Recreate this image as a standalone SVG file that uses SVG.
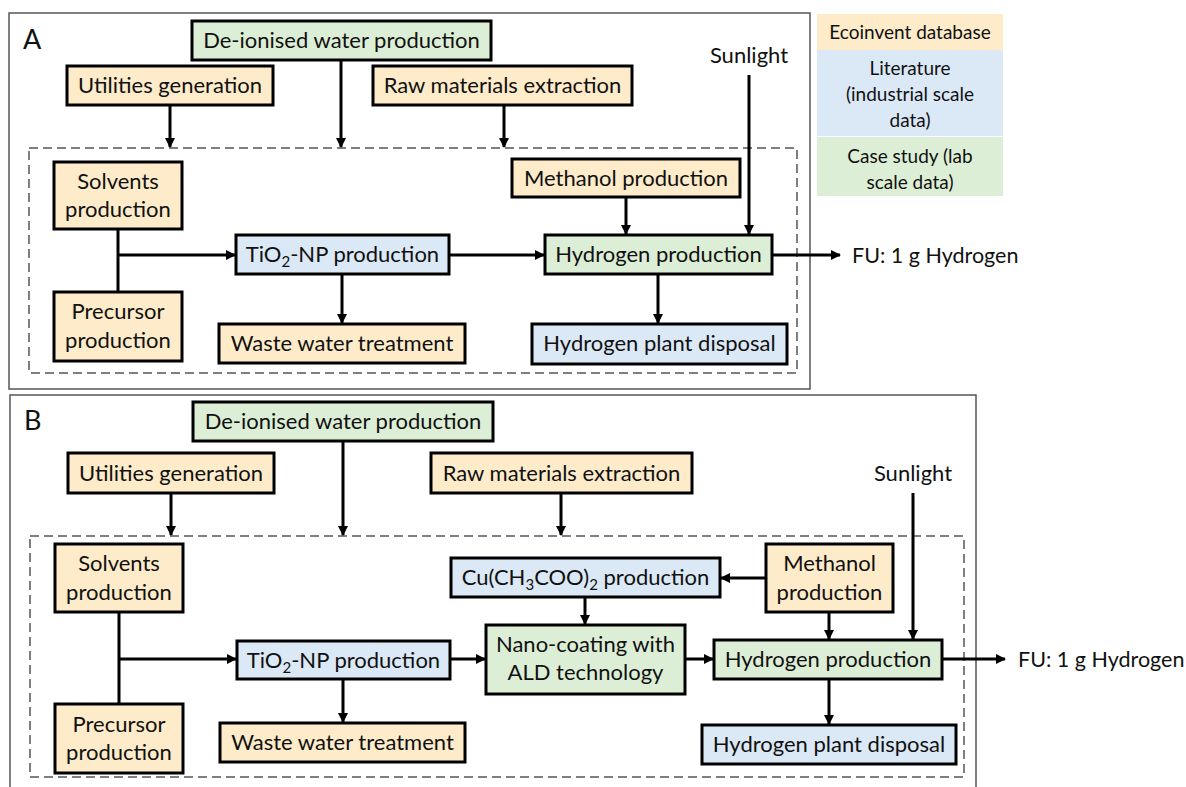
<svg xmlns="http://www.w3.org/2000/svg" width="1186" height="787" viewBox="0 0 1186 787">
<defs>
<style>
text{font-family:Lato,"Open Sans","Liberation Sans",sans-serif;fill:#111;}
.t{font-size:22px;text-anchor:middle;}
.lg{font-size:19px;text-anchor:middle;}
.pl{font-size:27px;}
.o{fill:#fdebca;stroke:#000;stroke-width:3;}
.b{fill:#dbe9f6;stroke:#000;stroke-width:3;}
.g{fill:#dcefd6;stroke:#000;stroke-width:3;}
.panel{fill:none;stroke:#555;stroke-width:1.5;}
.dash{fill:none;stroke:#555;stroke-width:1.5;stroke-dasharray:9 5;}
.c{fill:none;stroke:#000;stroke-width:3;}
.ca{fill:none;stroke:#000;stroke-width:3;marker-end:url(#ah);}
.sub{font-size:15px;}
</style>
<marker id="ah" viewBox="0 0 10 10" refX="9" refY="5" markerWidth="3.4" markerHeight="3.4" orient="auto" markerUnits="strokeWidth">
<path d="M0,0 L10,5 L0,10 z" fill="#000"/>
</marker>
</defs>
<rect width="1186" height="787" fill="#fff"/>

<!-- Panel frames -->
<g id="panelA">
<rect class="panel" x="9" y="13" width="801" height="376"/>
<text class="pl" x="23" y="49">A</text>
<rect class="dash" x="29" y="148" width="768" height="225"/>
</g>
<g id="panelB">
<rect class="panel" x="10" y="395" width="966" height="400"/>
<text class="pl" x="24" y="430">B</text>
<rect class="dash" x="30" y="536" width="934" height="241"/>
</g>

<!-- Legend -->
<g id="legend">
<rect x="817" y="14" width="186" height="36" fill="#fdebca"/>
<rect x="817" y="50" width="186" height="86" fill="#dbe9f6"/>
<rect x="817" y="137" width="186" height="59" fill="#dcefd6"/>
<text class="lg" x="910" y="39">Ecoinvent database</text>
<text class="lg" x="910" y="75">Literature</text>
<text class="lg" x="910" y="101">(industrial scale</text>
<text class="lg" x="910" y="127">data)</text>
<text class="lg" x="910" y="163">Case study (lab</text>
<text class="lg" x="910" y="189">scale data)</text>
</g>

<!-- Connectors -->
<g id="connectors">
<!-- A -->
<line class="ca" x1="170" y1="105" x2="170" y2="147"/>
<line class="ca" x1="341" y1="60" x2="341" y2="147"/>
<line class="ca" x1="504" y1="105" x2="504" y2="147"/>
<line class="c" x1="118" y1="229" x2="118" y2="292"/>
<line class="ca" x1="118" y1="255" x2="235" y2="255"/>
<line class="ca" x1="449" y1="255" x2="544" y2="255"/>
<line class="ca" x1="626" y1="197" x2="626" y2="234"/>
<line class="ca" x1="749" y1="75" x2="749" y2="234"/>
<line class="ca" x1="342" y1="274" x2="342" y2="323"/>
<line class="ca" x1="658" y1="274" x2="658" y2="323"/>
<line class="ca" x1="772" y1="255" x2="840" y2="255"/>
<!-- B -->
<line class="ca" x1="171" y1="493" x2="171" y2="535"/>
<line class="ca" x1="343" y1="441" x2="343" y2="535"/>
<line class="ca" x1="561" y1="493" x2="561" y2="535"/>
<line class="c" x1="119" y1="612" x2="119" y2="704"/>
<line class="ca" x1="119" y1="659" x2="236" y2="659"/>
<line class="ca" x1="450" y1="659" x2="485" y2="659"/>
<line class="ca" x1="585" y1="597" x2="585" y2="624"/>
<line class="ca" x1="766" y1="578" x2="721" y2="578"/>
<line class="ca" x1="829" y1="612" x2="829" y2="639"/>
<line class="ca" x1="913" y1="493" x2="913" y2="639"/>
<line class="ca" x1="685" y1="659" x2="713" y2="659"/>
<line class="ca" x1="942" y1="659" x2="1005" y2="659"/>
<line class="ca" x1="343" y1="679" x2="343" y2="722"/>
<line class="ca" x1="829" y1="679" x2="829" y2="724"/>
</g>

<!-- Panel A nodes -->
<g id="A_deion"><rect class="g" x="192" y="21" width="299" height="39"/><text class="t" x="341.5" y="48">De-ionised water production</text></g>
<g id="A_util"><rect class="o" x="67" y="66" width="206" height="39"/><text class="t" x="170" y="93">Utilities generation</text></g>
<g id="A_raw"><rect class="o" x="373" y="66" width="259" height="39"/><text class="t" x="502.5" y="93">Raw materials extraction</text></g>
<g id="A_sun"><text class="t" x="749" y="63">Sunlight</text></g>
<g id="A_solv"><rect class="o" x="54" y="162" width="128" height="67"/><text class="t" x="118" y="189">Solvents</text><text class="t" x="118" y="217">production</text></g>
<g id="A_prec"><rect class="o" x="54" y="292" width="128" height="69"/><text class="t" x="118" y="319">Precursor</text><text class="t" x="118" y="348">production</text></g>
<g id="A_meth"><rect class="o" x="512" y="159" width="228" height="38"/><text class="t" x="626" y="186">Methanol production</text></g>
<g id="A_tio2"><rect class="b" x="236" y="235" width="213" height="39"/><text class="t" x="342.5" y="262">TiO<tspan class="sub" dy="5">2</tspan><tspan dy="-5">-NP production</tspan></text></g>
<g id="A_h2"><rect class="g" x="545" y="235" width="227" height="39"/><text class="t" x="658.5" y="262">Hydrogen production</text></g>
<g id="A_waste"><rect class="o" x="219" y="324" width="246" height="39"/><text class="t" x="342" y="351">Waste water treatment</text></g>
<g id="A_disp"><rect class="b" x="532" y="324" width="255" height="40"/><text class="t" x="659.5" y="351">Hydrogen plant disposal</text></g>
<g id="A_fu"><text x="852" y="263" style="font-size:21.5px">FU: 1 g Hydrogen</text></g>

<!-- Panel B nodes -->
<g id="B_deion"><rect class="g" x="193" y="402" width="300" height="39"/><text class="t" x="343" y="429">De-ionised water production</text></g>
<g id="B_util"><rect class="o" x="68" y="453" width="206" height="40"/><text class="t" x="171" y="481">Utilities generation</text></g>
<g id="B_raw"><rect class="o" x="431" y="453" width="261" height="40"/><text class="t" x="561.5" y="481">Raw materials extraction</text></g>
<g id="B_sun"><text class="t" x="913" y="481">Sunlight</text></g>
<g id="B_solv"><rect class="o" x="55" y="544" width="128" height="68"/><text class="t" x="119" y="571">Solvents</text><text class="t" x="119" y="600">production</text></g>
<g id="B_prec"><rect class="o" x="55" y="704" width="128" height="69"/><text class="t" x="119" y="732">Precursor</text><text class="t" x="119" y="760">production</text></g>
<g id="B_cu"><rect class="b" x="451" y="558" width="269" height="39"/><text class="t" x="585.5" y="585">Cu(CH<tspan class="sub" dy="5">3</tspan><tspan dy="-5">COO)</tspan><tspan class="sub" dy="5">2</tspan><tspan dy="-5"> production</tspan></text></g>
<g id="B_meth"><rect class="o" x="766" y="544" width="127" height="68"/><text class="t" x="829.5" y="571">Methanol</text><text class="t" x="829.5" y="600">production</text></g>
<g id="B_tio2"><rect class="b" x="237" y="641" width="213" height="38"/><text class="t" x="343.5" y="668">TiO<tspan class="sub" dy="5">2</tspan><tspan dy="-5">-NP production</tspan></text></g>
<g id="B_nano"><rect class="g" x="486" y="625" width="199" height="69"/><text class="t" x="585.5" y="652">Nano-coating with</text><text class="t" x="585.5" y="680">ALD technology</text></g>
<g id="B_h2"><rect class="g" x="714" y="640" width="228" height="39"/><text class="t" x="828" y="667">Hydrogen production</text></g>
<g id="B_waste"><rect class="o" x="220" y="723" width="245" height="39"/><text class="t" x="342.5" y="750">Waste water treatment</text></g>
<g id="B_disp"><rect class="b" x="702" y="725" width="254" height="39"/><text class="t" x="829" y="752">Hydrogen plant disposal</text></g>
<g id="B_fu"><text x="1018" y="667" style="font-size:21.5px">FU: 1 g Hydrogen</text></g>
</svg>
